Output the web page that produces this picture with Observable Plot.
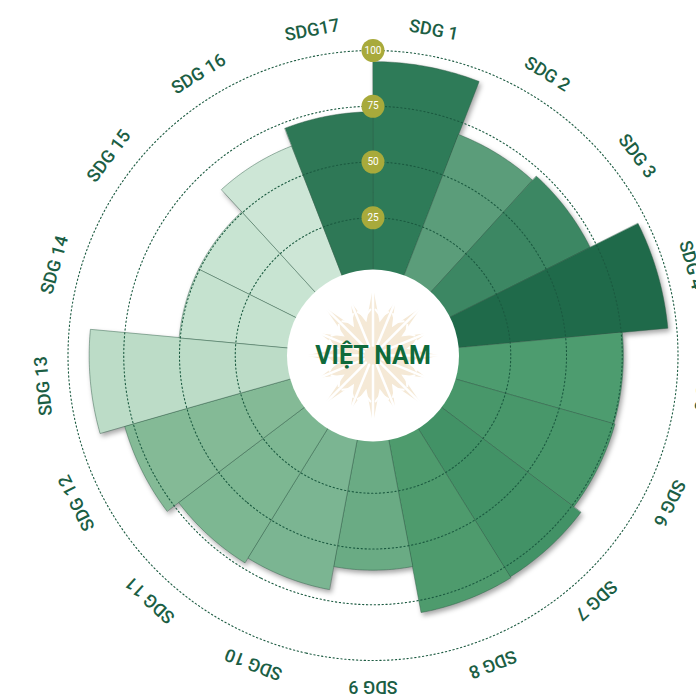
<!DOCTYPE html>
<html><head><meta charset="utf-8">
<script src="https://cdn.jsdelivr.net/npm/d3@7"></script>
<script src="https://cdn.jsdelivr.net/npm/@observablehq/plot@0.6"></script>
<style>
html,body{margin:0;padding:0;background:#fff;overflow:hidden;width:696px;height:696px}
#chart{position:absolute;left:0;top:0}
#chart svg{max-width:none !important}
</style></head><body><div id="chart"></div>
<script>
const categories = ["SDG 1","SDG 2","SDG 3","SDG 4","SDG 5","SDG 6","SDG 7","SDG 8","SDG 9","SDG 10","SDG 11","SDG 12","SDG 13","SDG 14","SDG 15","SDG 16","SDG17"];
const scores = [95, 69.5, 72, 96, 75.5, 76, 80, 80.5, 59.5, 70, 72.5, 79, 90.5, 50.5, 50.5, 64, 72.5];
const barColors = ["#2e7b58","#5b9d7a","#3c8763","#1f6a4a","#4d9c6f","#48976a","#429266","#4e9b6d","#6aab84","#7bb592","#7db792","#84ba96","#bcdcc7","#c5e2cf","#c8e4d2","#cde6d6","#2e7856"];
const ringValues = [25, 50, 75, 100];
const ringLabels = ["25", "50", "75", "100"];
const centerLabel = "VIỆT NAM";

const W = 745, H = 710;
const R0 = 82, K = 2.23;            // pixel radius at value 0, pixels per unit
const PX2DEG = 90 / 355;
const deg = px => px * PX2DEG;
const valueDeg = v => deg(R0 + K * v);
const labelDeg = deg(331);
const n = categories.length, step = 360 / n;
const lon = t => 180 - t;

function polygon(ring) {
  ring.push(ring[0]);
  const g = {type: "Polygon", coordinates: [ring]};
  if (d3.geoArea(g) > 2 * Math.PI) ring.reverse();
  return g;
}
function wedge(t0, t1, d0, d1) {
  const pts = [], m = 30;
  for (let k = 0; k <= m; k++) { const t = t0 + (t1 - t0) * k / m; pts.push([lon(t), 90 - d1]); }
  for (let k = m; k >= 0; k--) { const t = t0 + (t1 - t0) * k / m; pts.push([lon(t), 90 - d0]); }
  return polygon(pts);
}

const bars = categories.map((c, i) => ({
  cat: c, value: scores[i], color: barColors[i],
  geom: wedge(i * step, (i + 1) * step, valueDeg(0), valueDeg(scores[i]))
}));

// decorative star emblem in the centre
const spikes = 16;
const starPts = [];
for (let k = 0; k < spikes * 2; k++) {
  const t = k * 180 / spikes;
  const px = k % 2 === 0 ? (k % 4 === 0 ? 68 : 58) : 34;
  starPts.push([lon(t), 90 - deg(px)]);
}
const star = polygon(starPts);
const starLines = d3.range(spikes).map(k => ({
  type: "LineString",
  coordinates: [[lon(k * 360 / spikes), 90 - deg(10)], [lon(k * 360 / spikes), 90 - deg(70)]]
}));
const chevrons = [];
for (let k = 0; k < spikes; k++) {
  const t = k * 360 / spikes + 180 / spikes;
  for (const rr of [40, 54]) {
    chevrons.push({type: "LineString", coordinates: [
      [lon(t - 8), 90 - deg(rr + 6)], [lon(t), 90 - deg(rr)], [lon(t + 8), 90 - deg(rr + 6)]
    ]});
  }
}

const plot = Plot.plot({
  width: W, height: H,
  marginTop: 0, marginRight: 0, marginBottom: 0, marginLeft: 0,
  projection: {type: "azimuthal-equidistant", rotate: [0, -90],
               domain: d3.geoCircle().center([0, 90]).radius(90)()},
  color: {type: "identity"},
  style: {fontFamily: "Roboto, 'Noto Sans', sans-serif", background: "white", maxWidth: "none"},
  marks: [
    Plot.geo(bars, {geometry: d => d.geom, fill: d => d.color, stroke: "#2f5e46", strokeOpacity: 0.45, strokeWidth: 1}),
    Plot.geo(ringValues, {geometry: v => d3.geoCircle().center([0, 90]).radius(valueDeg(v)).precision(0.5)(),
      fill: "none", stroke: "#1b5a40", strokeWidth: 1.1, strokeDasharray: "1.3 2.6"}),
    Plot.dot([0], {x: () => 0, y: () => 90, r: R0 + 4, fill: "white"}),
    Plot.geo([star], {fill: "#f5e9d6"}),
    Plot.geo(starLines, {stroke: "white", strokeWidth: 2.5}),
    Plot.geo(chevrons, {stroke: "white", strokeWidth: 2, fill: "none"}),
    Plot.text([centerLabel], {x: () => 0, y: () => 90, text: d => d, fontSize: 25, fontWeight: 700,
      fill: "#0f6a3b", letterSpacing: 0.8, fontFamily: "Roboto, sans-serif"}),
    Plot.dot(ringValues, {x: () => 180, y: v => 90 - valueDeg(v), r: 11.5, fill: "#a8aa3b"}),
    Plot.text(ringLabels, {x: () => 180, y: (d, i) => 90 - valueDeg(ringValues[i]), text: d => d,
      fill: "white", fontSize: 10}),
    Plot.text(categories, {x: (d, i) => lon((i + 0.5) * step), y: () => 90 - labelDeg,
      rotate: (d, i) => (i + 0.5) * step, text: d => d, fontSize: 18, fontWeight: 500, fill: "#1b5e44",
      letterSpacing: 1.3, lineAnchor: "middle", textAnchor: "middle"})
  ]
});
plot.style.maxWidth = "none";
const geoGroups = plot.querySelectorAll('g[aria-label="geo"]');
if (geoGroups.length) geoGroups[0].style.filter = "drop-shadow(2px 3px 2.5px rgba(0,0,0,0.35))";
document.getElementById("chart").appendChild(plot);
</script></body></html>
